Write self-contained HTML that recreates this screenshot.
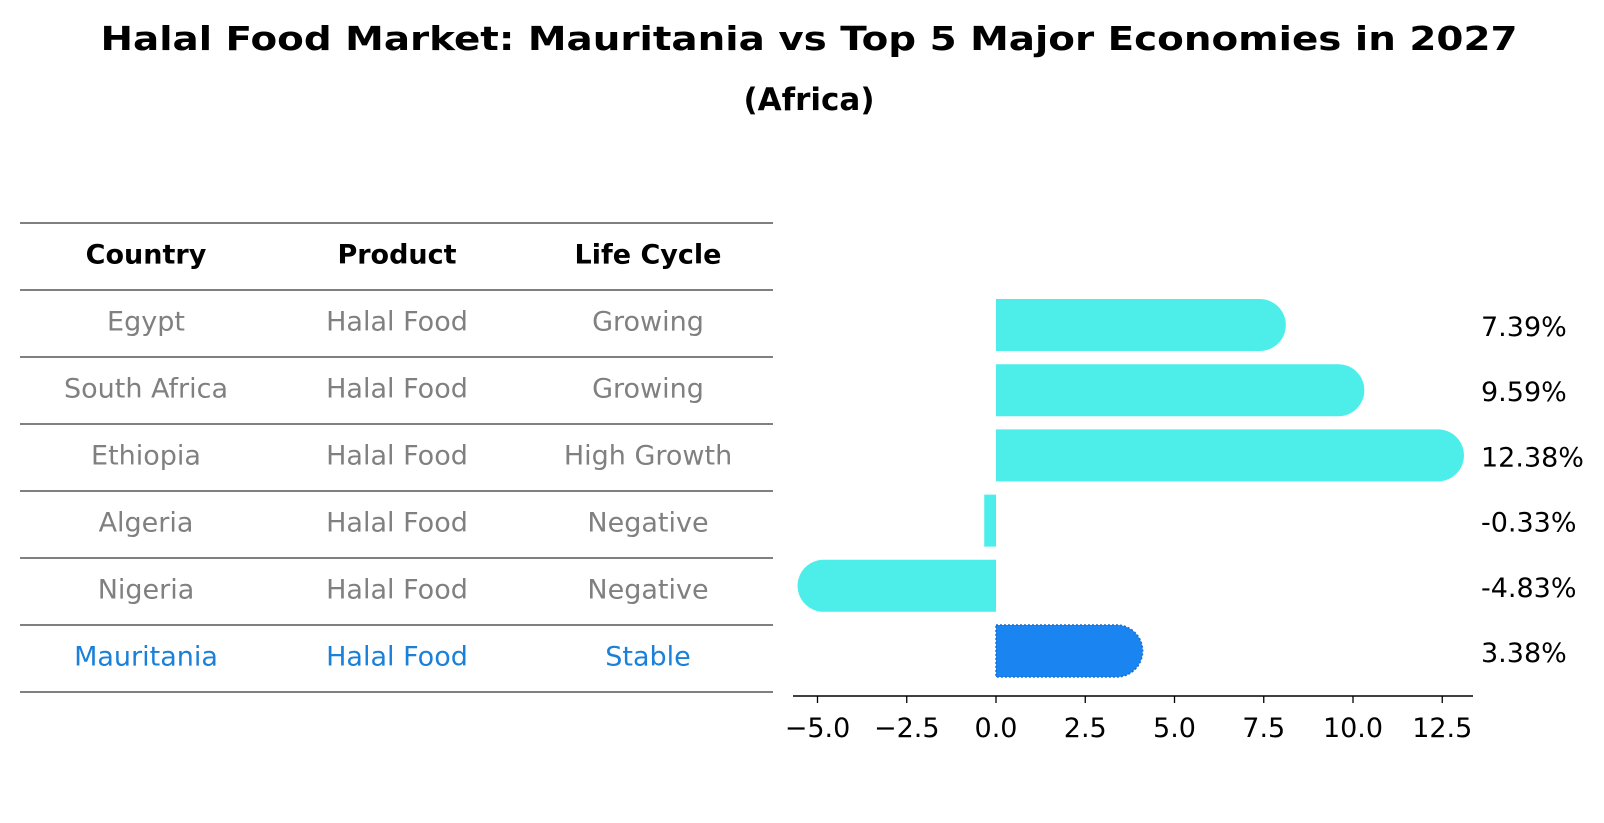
<!DOCTYPE html>
<html><head><meta charset="utf-8"><style>
html,body{margin:0;padding:0;background:#fff;}
svg{display:block;font-family:"DejaVu Sans","Liberation Sans",sans-serif;}
</style></head><body>
<svg id="chart" width="1604" height="823" viewBox="0 0 1604 823" xmlns="http://www.w3.org/2000/svg">
<text x="809" y="50" text-anchor="middle" font-size="33" font-weight="bold" textLength="1417" lengthAdjust="spacingAndGlyphs">Halal Food Market: Mauritania vs Top 5 Major Economies in 2027</text>
<text x="809" y="110" text-anchor="middle" font-size="31" font-weight="bold">(Africa)</text>
<g id="table"></g>
<g id="bars"></g>
</svg>
<script>
const countries = ["Egypt","South Africa","Ethiopia","Algeria","Nigeria","Mauritania"];
const products = ["Halal Food","Halal Food","Halal Food","Halal Food","Halal Food","Halal Food"];
const lifeCycles = ["Growing","Growing","High Growth","Negative","Negative","Stable"];
const growthValues = [7.39, 9.59, 12.38, -0.33, -4.83, 3.38];
const valueLabels = ["7.39%","9.59%","12.38%","-0.33%","-4.83%","3.38%"];
const tickValues = [-5.0, -2.5, 0.0, 2.5, 5.0, 7.5, 10.0, 12.5];
const tickLabels = ["\u22125.0","\u22122.5","0.0","2.5","5.0","7.5","10.0","12.5"];

const NS = "http://www.w3.org/2000/svg";
function mk(tag, attrs, parent){const e=document.createElementNS(NS,tag);for(const k in attrs)e.setAttribute(k,attrs[k]);parent.appendChild(e);return e;}

// table
const tbl = document.getElementById("table");
const rowTop = 223, rowH = 67, colX = [146, 397, 648];
for (let i=0;i<=7;i++){
  const ln = mk("line",{x1:20,x2:773,y1:rowTop+i*rowH,y2:rowTop+i*rowH,stroke:"#000","stroke-width":1},tbl);
  
  
}
const headers = ["Country","Product","Life Cycle"];
headers.forEach((h,j)=>{
  const t = mk("text",{x:colX[j],y:rowTop+rowH/2+7,"text-anchor":"middle","font-size":27,"font-weight":"bold"},tbl);
  t.textContent=h;
  
  
});
countries.forEach((c,i)=>{
  const last = i===countries.length-1;
  const col = last ? "#1a80d9" : "#808080";
  [c, products[i], lifeCycles[i]].forEach((v,j)=>{
    const t = mk("text",{x:colX[j],y:rowTop+(i+1)*rowH+rowH/2+7,"text-anchor":"middle","font-size":27,fill:col},tbl);
    t.textContent=v;
    
    
  });
});

// bar chart
const g = document.getElementById("bars");
const x0 = 996, pxPerUnit = 35.7;
const xScale = v => x0 + v*pxPerUnit;
const yCenter = i => 325 + i*65.2;
const barH = 52, r = 26;
growthValues.forEach((v,i)=>{
  const last = i===growthValues.length-1;
  const fill = last ? "#1a84f0" : "#4deeea";
  const yc = yCenter(i), xe = xScale(v);
  let d;
  if (Math.abs(v) < 1) {
    const a=Math.min(x0,xe), b=Math.max(x0,xe);
    d = `M${a},${yc-barH/2}H${b}V${yc+barH/2}H${a}Z`;
  } else if (v>0) {
    d = `M${x0},${yc-barH/2}H${xe}A${r},${r} 0 0 1 ${xe},${yc+barH/2}H${x0}Z`;
  } else {
    d = `M${x0},${yc-barH/2}H${xe}A${r},${r} 0 0 0 ${xe},${yc+barH/2}H${x0}Z`;
  }
  const p = mk("path",{d:d,fill:fill},g);
  if (last){ p.setAttribute("stroke","#1570d0"); p.setAttribute("stroke-dasharray","2,2"); p.setAttribute("stroke-width","1.5"); }
  
  
  const t = mk("text",{x:1481,y:yc+11,"font-size":27},g);
  t.textContent = valueLabels[i];
  
  
});
const ax = mk("line",{x1:793,x2:1473,y1:696,y2:696,stroke:"#000","stroke-width":1.5},g);


tickValues.forEach((v,i)=>{
  const tk = mk("line",{x1:xScale(v),x2:xScale(v),y1:696,y2:703,stroke:"#000","stroke-width":1.3},g);
  
  
  const t = mk("text",{x:xScale(v),y:737,"text-anchor":"middle","font-size":27},g);
  t.textContent = tickLabels[i];
  
  
});
</script>
</body></html>
